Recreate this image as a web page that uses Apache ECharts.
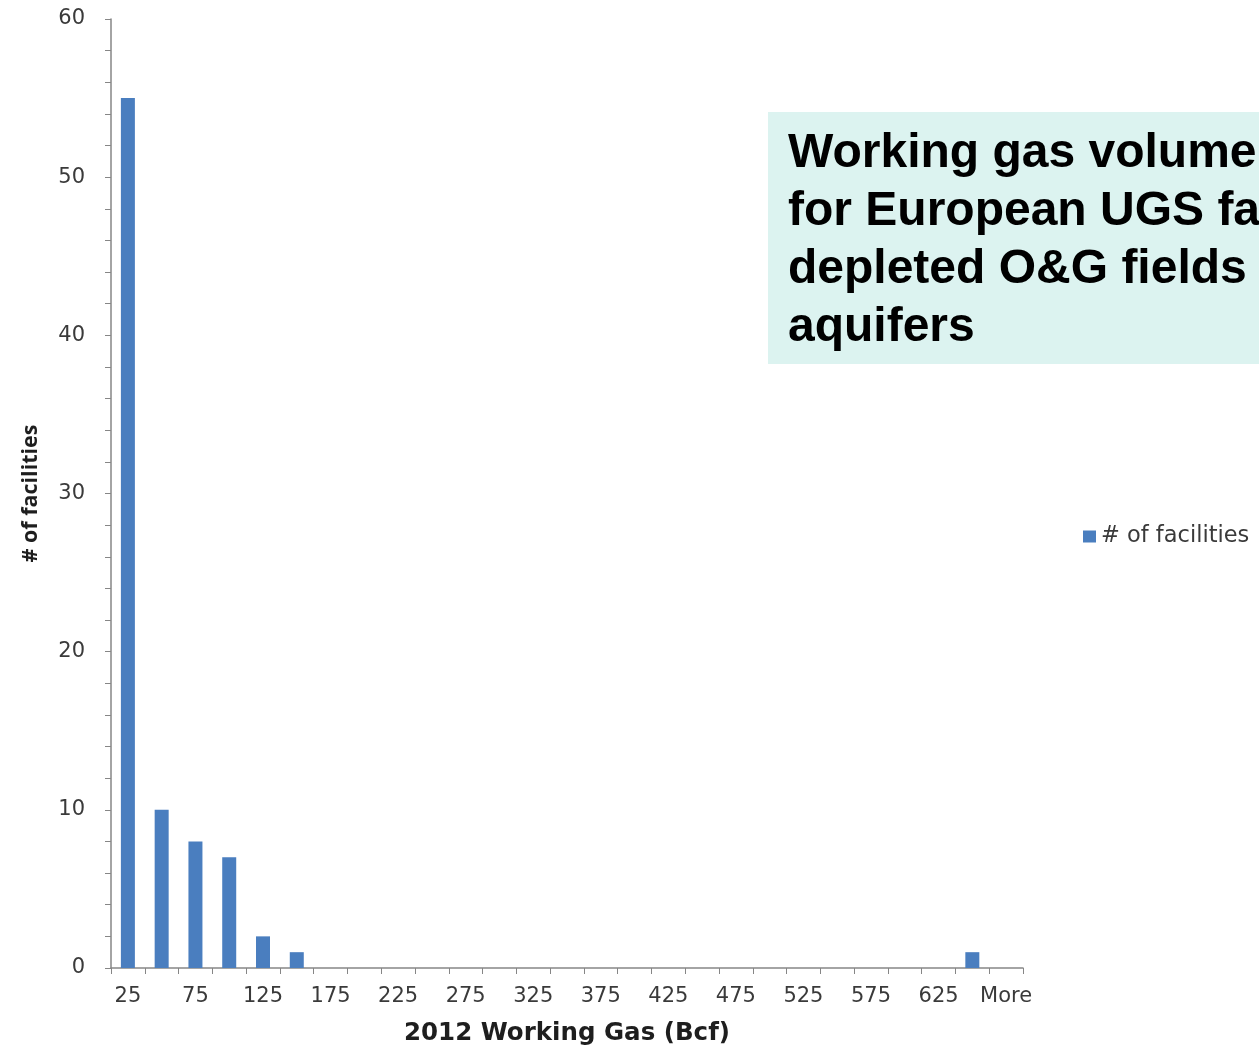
<!DOCTYPE html>
<html><head><meta charset="utf-8">
<script src="https://cdn.jsdelivr.net/npm/echarts@6/dist/echarts.min.js"></script>
<style>html,body{margin:0;padding:0;background:#fff}#c{width:1259px;height:1051px}</style>
</head><body><div id="c"></div>
<script>
const categories = ['25','50','75','100','125','150','175','200','225','250','275','300','325','350','375','400','425','450','475','500','525','550','575','600','625','650','More'];
const facilities = [55,10,8,7,2,1,0,0,0,0,0,0,0,0,0,0,0,0,0,0,0,0,0,0,0,1,0];
const yTicks = {min:0, max:60, interval:10};
const seriesName = '# of facilities';
const xTitle = '2012 Working Gas (Bcf)';
const yTitle = '# of facilities';
const titleLines = ['Working gas volume','for European UGS fa','depleted O&G fields','aquifers'];

const chart = echarts.init(document.getElementById('c'), null, {renderer:'canvas'});
const lab = '#3a3a3a', axisCol = '#868686';
const wide = '"DejaVu Sans", Verdana, sans-serif';
const narrow = '"Open Sans", "DejaVu Sans", sans-serif';
chart.setOption({
  animation:false,
  backgroundColor:'#fff',
  grid:{left:111, right:236, top:19, bottom:80, containLabel:false},
  legend:{show:true, orient:'vertical', left:1083, top:525, padding:0, itemWidth:13, itemHeight:12, itemGap:6,
    icon:'rect', textStyle:{fontFamily:wide, fontSize:22.5, color:lab}, data:[seriesName]},
  xAxis:{type:'category', data:categories,
    axisLine:{lineStyle:{color:axisCol, width:1.5}},
    axisTick:{show:true, interval:0, length:6, lineStyle:{color:axisCol}},
    axisLabel:{interval:1, margin:18, fontFamily:wide, fontSize:21, color:lab},
    name:xTitle, nameLocation:'middle', nameGap:53,
    nameTextStyle:{fontFamily:wide, fontSize:24.5, fontWeight:'bold', color:'#1e1e1e'}},
  yAxis:{type:'value', min:yTicks.min, max:yTicks.max, interval:yTicks.interval,
    splitLine:{show:false},
    axisLine:{show:true, lineStyle:{color:axisCol, width:1.5}},
    axisTick:{show:true, length:6, lineStyle:{color:axisCol}},
    minorTick:{show:true, splitNumber:5, length:6, lineStyle:{color:axisCol}},
    axisLabel:{margin:26, fontFamily:wide, fontSize:21, color:lab},
    name:yTitle, nameLocation:'middle', nameGap:69, nameRotate:90,
    nameTextStyle:{fontFamily:narrow, fontSize:21.5, fontWeight:'bold', color:'#1e1e1e'}},
  series:[{name:seriesName, type:'bar', data:facilities, barWidth:14,
    itemStyle:{color:'#4a7ebf'}}],
  graphic:[
    {type:'rect', shape:{x:768, y:112, width:520, height:252}, style:{fill:'#dcf3f0'}, z:10},
    {type:'text', x:788, y:125, z:11, style:{text:titleLines.join('\n'),
      font:'bold 48px "Liberation Sans", Arial, sans-serif', lineHeight:58, fill:'#000'}}
  ]
});
</script></body></html>
